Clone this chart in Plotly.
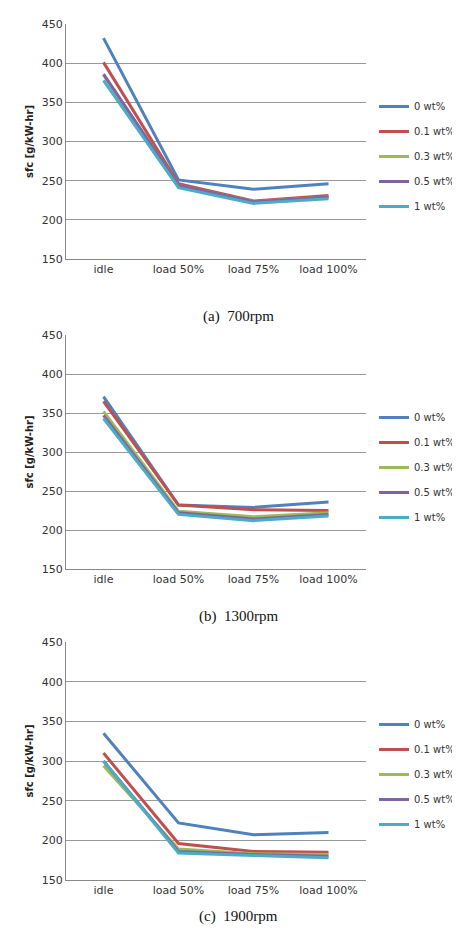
import plotly.graph_objects as go

categories = ["idle", "load 50%", "load 75%", "load 100%"]
series_names = ["0 wt%", "0.1 wt%", "0.3 wt%", "0.5 wt%", "1 wt%"]
colors = ["#4F81BD", "#C0504D", "#9BBB59", "#8064A2", "#4BACC6"]

rpm700 = [
    [432, 251, 239, 246],
    [401, 246, 224, 231],
    [385, 244, 223, 229],
    [386, 244, 223, 229],
    [378, 241, 221, 227],
]
rpm1300 = [
    [371, 232, 229, 236],
    [365, 232, 226, 225],
    [352, 224, 217, 222],
    [347, 222, 214, 220],
    [343, 220, 212, 218],
]
rpm1900 = [
    [335, 222, 207, 210],
    [310, 196, 186, 185],
    [294, 189, 183, 182],
    [300, 186, 182, 180],
    [300, 184, 181, 178],
]
captions = ["(a)  700rpm", "(b)  1300rpm", "(c)  1900rpm"]
panels = [rpm700, rpm1300, rpm1900]

W, H = 460, 936
ydoms = [(16, 251), (327, 561), (634, 872)]
fig = go.Figure()
layout = dict(width=W, height=H, margin=dict(l=0, r=0, t=0, b=0, autoexpand=False),
              paper_bgcolor="white", plot_bgcolor="white", annotations=[])
for p, (data, (top, bot)) in enumerate(zip(panels, ydoms)):
    sfx = "" if p == 0 else str(p + 1)
    lg = "legend" if p == 0 else f"legend{p+1}"
    for i, name in enumerate(series_names):
        fig.add_trace(go.Scatter(x=categories, y=data[i], name=name, mode="lines",
                                 line=dict(color=colors[i], width=3),
                                 legendgroup=f"g{p}_{i}",
                                 xaxis="x" + sfx, yaxis="y" + sfx, legend=lg))
    dom = [1 - bot / H, 1 - top / H]
    layout["xaxis" + sfx] = dict(domain=[58 / W, 358 / W], anchor="y" + sfx,
                                 showline=True, linecolor="#888", ticks="", automargin=False,
                                 tickfont=dict(family="DejaVu Sans", size=11, color="#333"),
                                 showgrid=False, range=[-0.5, 3.5])
    layout["yaxis" + sfx] = dict(domain=dom, anchor="x" + sfx, range=[150, 450], dtick=50,
                                 showline=True, linecolor="#888", gridcolor="#999", automargin=False,
                                 tickfont=dict(family="DejaVu Sans", size=11, color="#333"),
                                 title=dict(text="<b>sfc [g/kW-hr]</b>", standoff=6,
                                            font=dict(family="DejaVu Sans", size=10, color="#222")))
    layout[lg] = dict(x=366 / W, y=1 - (top + 68) / H, xanchor="left", yanchor="top",
                      font=dict(family="DejaVu Sans", size=10, color="#333"),
                      tracegroupgap=6, itemwidth=30, bgcolor="rgba(0,0,0,0)")
    layout["annotations"].append(dict(text=captions[p], xref="paper", yref="paper",
                                      x=230 / W, y=1 - (bot + 47) / H, showarrow=False,
                                      font=dict(family="Liberation Serif", size=15, color="#111")))
fig.update_layout(**layout)
fig.write_html("out.html")
